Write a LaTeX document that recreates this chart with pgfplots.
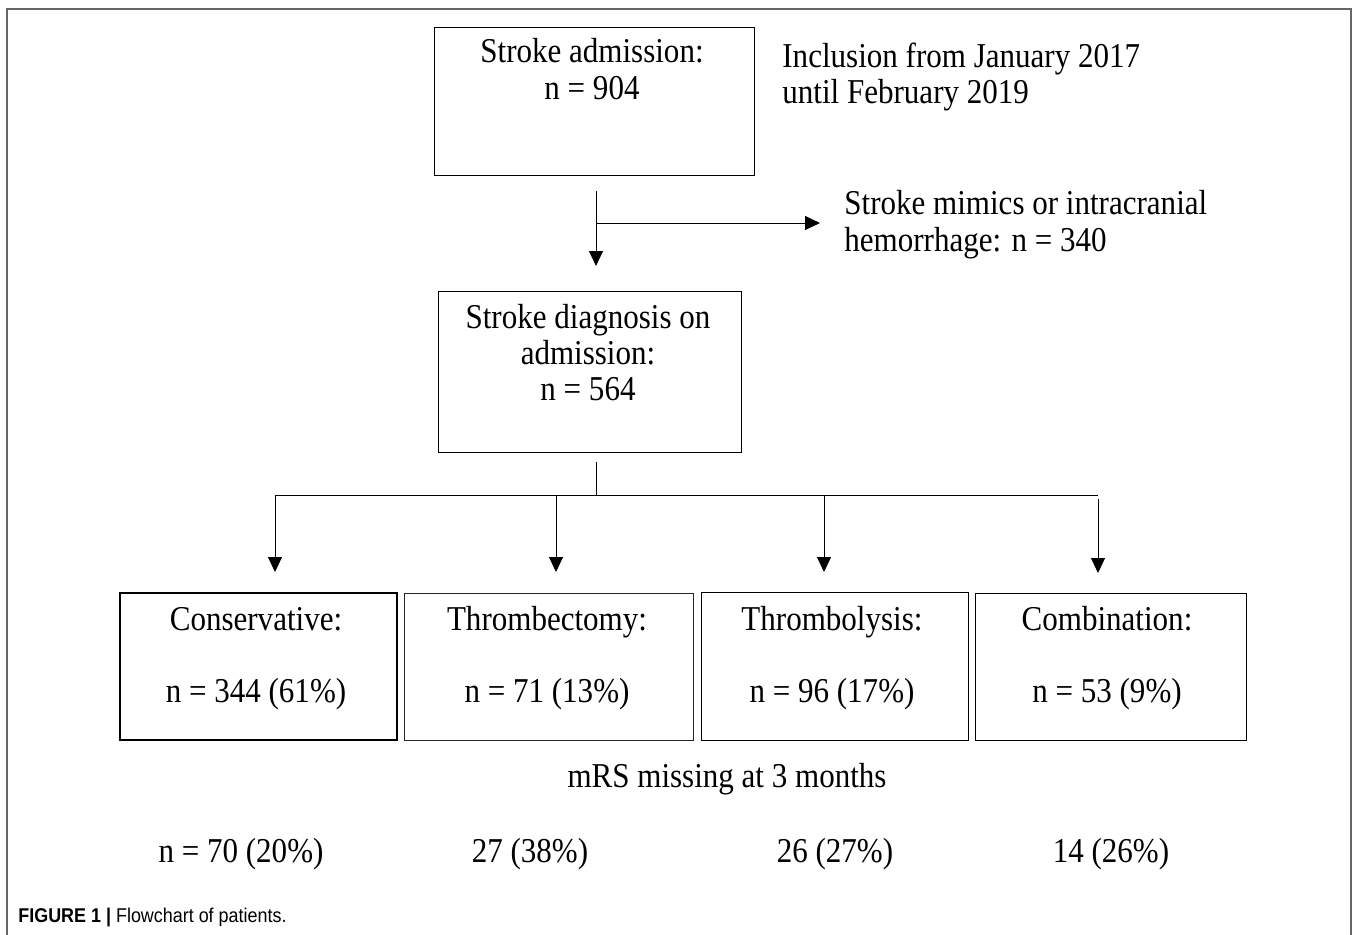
\documentclass[border=0pt]{standalone}
\usepackage{fontspec}
\setmainfont{Liberation Serif}[FakeStretch=0.89]
\newfontfamily\capfont{Liberation Sans}[FakeStretch=0.9]
\usepackage{pgfplots}
\pgfplotsset{compat=1.18}
\usetikzlibrary{arrows.meta}
\newcommand{\tx}{\fontsize{17.5}{18}\selectfont}
\begin{document}
\begin{tikzpicture}
\begin{axis}[
  scale only axis, width=679bp, height=467.5bp,
  xmin=0, xmax=1358, ymin=0, ymax=935, y dir=reverse,
  hide axis, clip=false,
  cycle list={{black!85,solid,mark=none,line width=0.8bp}},
]
% outer frame
\addplot[color=black!60, line width=0.6bp] coordinates {(7,935) (7,9) (1351,9) (1351,935)};
% boxes
\addplot coordinates {(434,27) (754,27) (754,175) (434,175)} --cycle;
\addplot coordinates {(438,291) (741,291) (741,452) (438,452)} --cycle;
\addplot coordinates {(120,593) (397,593) (397,740) (120,740)} --cycle;
\addplot coordinates {(404,593) (693,593) (693,740) (404,740)} --cycle;
\addplot coordinates {(701,592) (968,592) (968,740) (701,740)} --cycle;
\addplot coordinates {(975,593) (1246,593) (1246,740) (975,740)} --cycle;
% arrows
\addplot[-{Triangle[length=7.5bp,width=7bp]}] coordinates {(596,191) (596,266)};
\addplot[-{Triangle[length=7.5bp,width=7bp]}] coordinates {(596,223) (820,223)};
\addplot coordinates {(596,462) (596,495)};
\addplot coordinates {(275,495) (1098,495)};
\addplot[-{Triangle[length=7.5bp,width=7bp]}] coordinates {(275,495) (275,572)};
\addplot[-{Triangle[length=7.5bp,width=7bp]}] coordinates {(556,495) (556,572)};
\addplot[-{Triangle[length=7.5bp,width=7bp]}] coordinates {(824,495) (824,572)};
\addplot[-{Triangle[length=7.5bp,width=7bp]}] coordinates {(1098,499) (1098,573)};
% texts
\node[anchor=base, font=\tx] at (axis cs:592,63) {Stroke admission:};
\node[anchor=base, font=\tx] at (axis cs:592,100) {n = 904};
\node[anchor=base west, font=\tx, inner sep=0pt] at (axis cs:782,68) {Inclusion from January 2017};
\node[anchor=base west, font=\tx, inner sep=0pt] at (axis cs:782,104) {until February 2019};
\node[anchor=base west, font=\tx, inner sep=0pt] at (axis cs:844,215) {Stroke mimics or intracranial};
\node[anchor=base west, font=\tx, inner sep=0pt] at (axis cs:844,252) {hemorrhage: n = 340};
\node[anchor=base, font=\tx] at (axis cs:588,328) {Stroke diagnosis on};
\node[anchor=base, font=\tx] at (axis cs:588,364) {admission:};
\node[anchor=base, font=\tx] at (axis cs:588,400) {n = 564};
\node[anchor=base, font=\tx] at (axis cs:256,630) {Conservative:};
\node[anchor=base, font=\tx] at (axis cs:256,702) {n = 344 (61\%)};
\node[anchor=base, font=\tx] at (axis cs:547,630) {Thrombectomy:};
\node[anchor=base, font=\tx] at (axis cs:547,702) {n = 71 (13\%)};
\node[anchor=base, font=\tx] at (axis cs:832,630) {Thrombolysis:};
\node[anchor=base, font=\tx] at (axis cs:832,702) {n = 96 (17\%)};
\node[anchor=base, font=\tx] at (axis cs:1107,630) {Combination:};
\node[anchor=base, font=\tx] at (axis cs:1107,702) {n = 53 (9\%)};
\node[anchor=base, font=\tx] at (axis cs:727,787) {mRS missing at 3 months};
\node[anchor=base, font=\tx] at (axis cs:241,862) {n = 70 (20\%)};
\node[anchor=base, font=\tx] at (axis cs:530,862) {27 (38\%)};
\node[anchor=base, font=\tx] at (axis cs:835,862) {26 (27\%)};
\node[anchor=base, font=\tx] at (axis cs:1111,862) {14 (26\%)};
\node[anchor=base west, inner sep=0pt, font=\capfont\fontsize{10}{11}\selectfont] at (axis cs:18,922) {\textbf{FIGURE 1 |} Flowchart of patients.};
\end{axis}
\pgfresetboundingbox
\path (current axis.south west) rectangle (current axis.north east);
\end{tikzpicture}
\end{document}
